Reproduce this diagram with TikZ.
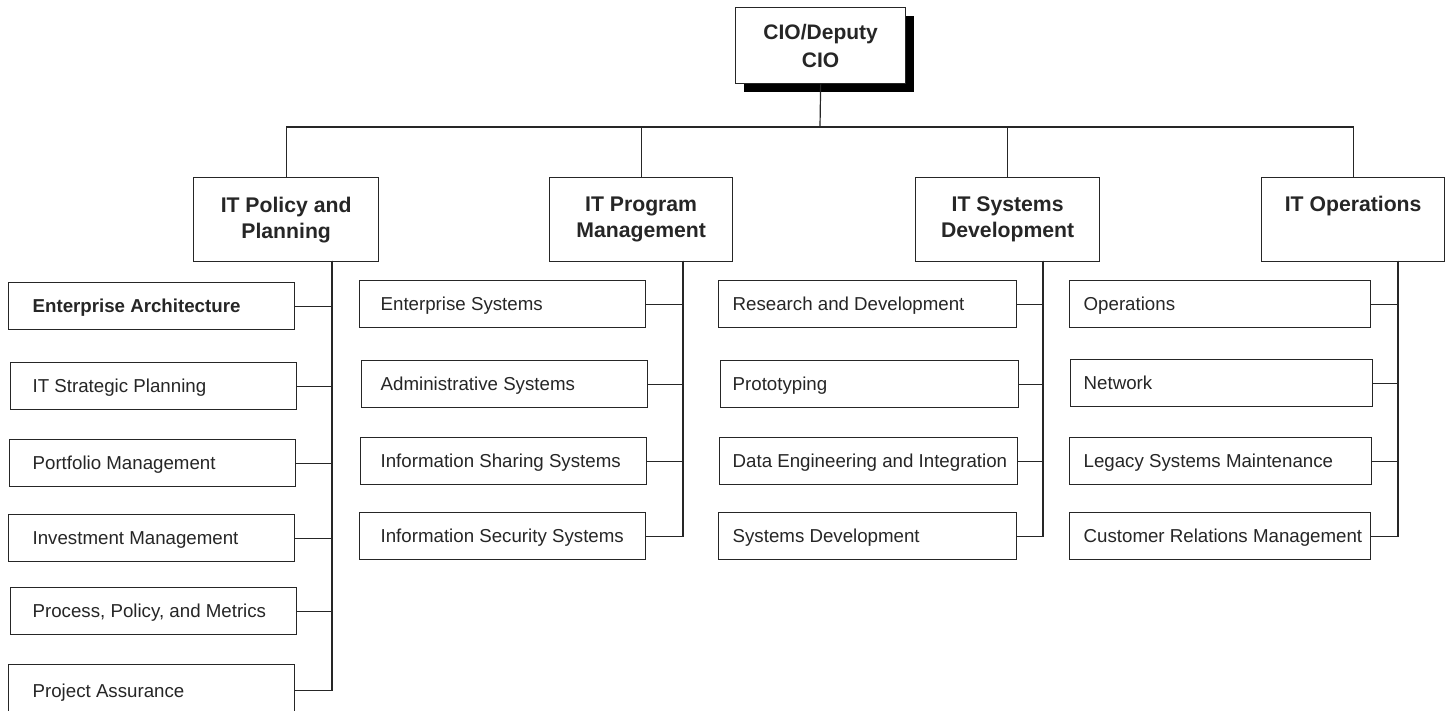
\documentclass[tikz,border=0pt]{standalone}
\usepackage{fontspec}
\setmainfont{Liberation Sans}
\usetikzlibrary{shadows}
\definecolor{ink}{HTML}{262626}

% leaf box: name, left, top, width, text start x, label
\newcommand\orgleaf[6]{%
  \node[leafbox, minimum width=#4pt] (#1) at (#2,#3)
    {\hspace*{\dimexpr#5pt-#2pt\relax}\makebox[\dimexpr#4pt-#5pt+#2pt\relax][l]{#6}};}

\begin{document}
\begin{tikzpicture}[x=1pt, y=-1pt,
  every node/.style={text=ink},
  cio/.style={draw=ink, line width=1.3pt, fill=white, align=center,
    font=\bfseries\fontsize{21}{28}\selectfont, minimum width=170pt,
    minimum height=76pt, inner sep=0pt, anchor=north west,
    general shadow={fill=black, shadow xshift=8pt, shadow yshift=-8pt}},
  hdr/.style={draw=ink, line width=1.3pt, fill=white, align=center,
    font=\bfseries\fontsize{21.2}{26}\selectfont, minimum height=84pt,
    inner sep=0pt, anchor=north west},
  leafbox/.style={draw=ink, line width=1.3pt, fill=white, anchor=north west,
    inner xsep=0pt, inner ysep=0pt, minimum height=47pt,
    text height=13.5pt, text depth=0pt, font=\fontsize{18.7}{22}\selectfont},
  conn/.style={draw=ink, line width=1.2pt}]

\useasboundingbox (0,0) rectangle (1452,711);

% top of the hierarchy
\node[cio] (cio) at (735,7) {CIO/Deputy\\CIO};

% division heads
\node[hdr, minimum width=185pt] (h1) at (193,177) {IT Policy and\\Planning};
\node[hdr, minimum width=183pt] (h2) at (549,177) {IT Program\\Management};
\node[hdr, minimum width=184pt] (h3) at (915,177) {IT Systems\\Development};
\node[hdr, minimum width=183pt] (h4) at (1261,177) {\raisebox{-3pt}{IT Operations}\\\strut};

% IT Policy and Planning units
\orgleaf{ea}{8}{282}{286}{32}{\bfseries Enterprise Architecture}
\orgleaf{sp}{10}{362}{286}{32}{IT Strategic Planning}
\orgleaf{pm}{9}{439}{286}{32}{Portfolio Management}
\orgleaf{im}{8}{514}{286}{32}{Investment Management}
\orgleaf{ppm}{10}{587}{286}{32}{Process, Policy, and Metrics}
\node[leafbox, minimum width=286pt, minimum height=52pt, text height=13.5pt]
  (pa) at (8,664) {\hspace*{24pt}\makebox[262pt][l]{Project Assurance}};

% IT Program Management units
\orgleaf{es}{359}{280}{286}{380}{Enterprise Systems}
\orgleaf{as}{361}{360}{286}{380}{Administrative Systems}
\orgleaf{iss}{360}{437}{286}{380}{Information Sharing Systems}
\orgleaf{isec}{359}{512}{286}{380}{Information Security Systems}

% IT Systems Development units
\orgleaf{rd}{718}{280}{298}{732}{Research and Development}
\orgleaf{pr}{720}{360}{298}{732}{Prototyping}
\orgleaf{de}{719}{437}{298}{732}{Data Engineering and Integration}
\orgleaf{sd}{718}{512}{298}{732}{Systems Development}

% IT Operations units
\orgleaf{op}{1069}{280}{301}{1083}{Operations}
\orgleaf{nw}{1070}{359}{302}{1083}{Network}
\orgleaf{lsm}{1069}{437}{302}{1083}{Legacy Systems Maintenance}
\orgleaf{crm}{1069}{512}{301}{1083}{Customer Relations Management}

% bus from the CIO to the four divisions
\coordinate (bus) at (820,127);
\draw[conn] (cio.south) -- (bus);
\draw[conn] (h1.north) -- (h1.north |- bus) -- (h4.north |- bus) -- (h4.north);
\draw[conn] (h2.north) -- (h2.north |- bus);
\draw[conn] (h3.north) -- (h3.north |- bus);

% spines down each division
\coordinate (s1) at (332,261);
\coordinate (s2) at (683,261);
\coordinate (s3) at (1043,261);
\coordinate (s4) at (1398,261);

\foreach \leaf in {ea,sp,pm,im,ppm,pa} \draw[conn] (s1) |- (\leaf.east);
\foreach \leaf in {es,as,iss,isec} \draw[conn] (s2) |- (\leaf.east);
\foreach \leaf in {rd,pr,de,sd} \draw[conn] (s3) |- (\leaf.east);
\foreach \leaf in {op,nw,lsm,crm} \draw[conn] (s4) |- (\leaf.east);
\end{tikzpicture}
\end{document}
